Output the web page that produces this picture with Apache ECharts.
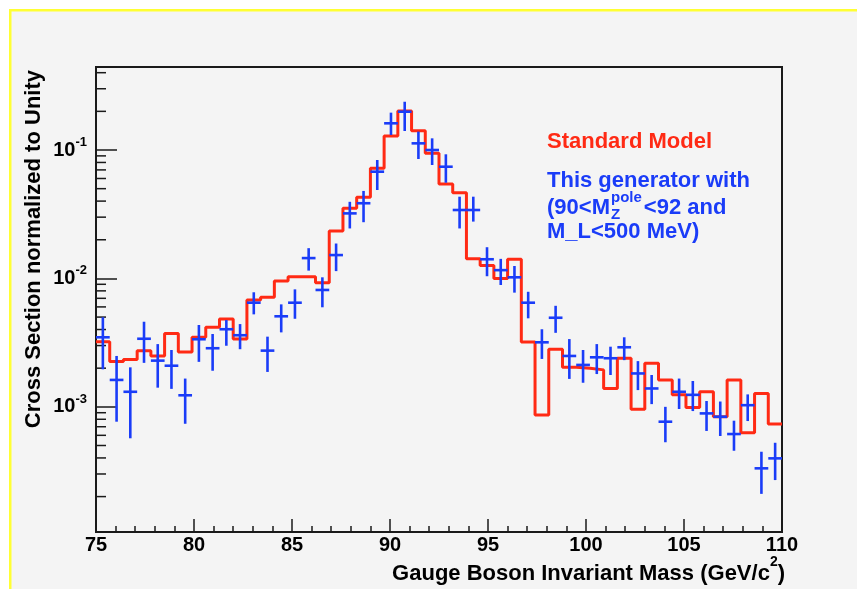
<!DOCTYPE html>
<html><head><meta charset="utf-8">
<script src="https://cdn.jsdelivr.net/npm/echarts@6/dist/echarts.min.js"></script>
<style>html,body{margin:0;padding:0;background:#fff}#c{width:857px;height:589px}</style>
</head><body><div id="c"></div>
<script>
// ---- data ----
const binEdges = [75.0,75.7,76.4,77.1,77.8,78.5,79.2,79.9,80.6,81.3,82.0,82.7,83.4,84.1,84.8,85.5,86.2,86.9,87.6,88.3,
  89.0,89.7,90.4,91.1,91.8,92.5,93.2,93.9,94.6,95.3,96.0,96.7,97.4,98.1,98.8,99.5,100.2,100.9,101.6,102.3,
  103.0,103.7,104.4,105.1,105.8,106.5,107.2,107.9,108.6,109.3,110.0];
const smValues = [3.21e-3,2.25e-3,2.34e-3,2.73e-3,2.49e-3,3.73e-3,2.67e-3,3.48e-3,4.16e-3,4.83e-3,
  3.37e-3,6.79e-3,7.13e-3,9.55e-3,1.03e-2,1.03e-2,9.26e-3,2.34e-2,3.52e-2,4.28e-2,
  7.2e-2,0.1285,0.201,0.141,9.42e-2,5.43e-2,4.65e-2,1.42e-2,1.26e-2,1.0e-2,
  1.41e-2,3.2e-3,8.63e-4,2.81e-3,2.03e-3,2.0e-3,1.94e-3,1.39e-3,2.39e-3,9.57e-4,
  2.18e-3,1.62e-3,1.24e-3,9.9e-4,1.31e-3,8.37e-4,1.62e-3,6.28e-4,1.27e-3,7.35e-4];
const genValues = [3.48e-3,1.62e-3,1.31e-3,3.39e-3,2.29e-3,2.09e-3,1.23e-3,3.36e-3,2.86e-3,4.02e-3,
  3.61e-3,6.47e-3,2.74e-3,5.07e-3,6.47e-3,1.44e-2,8.13e-3,1.52e-2,3.21e-2,3.85e-2,
  6.78e-2,0.1614,0.1987,0.1127,0.1,7.41e-2,3.41e-2,3.41e-2,1.41e-2,1.16e-2,
  1.02e-2,6.47e-3,3.18e-3,4.94e-3,2.49e-3,2.12e-3,2.43e-3,2.39e-3,2.91e-3,1.82e-3,
  1.39e-3,7.66e-4,1.31e-3,1.24e-3,8.89e-4,8.37e-4,6.14e-4,1.03e-3,3.32e-4,3.97e-4];
const genErrHigh = [4.98e-3,2.49e-3,2.03e-3,4.6e-3,3.08e-3,2.77e-3,1.66e-3,4.34e-3,3.69e-3,4.74e-3,
  4.41e-3,7.8e-3,3.52e-3,6.28e-3,8.22e-3,1.72e-2,1.02e-2,1.87e-2,3.95e-2,4.8e-2,
  8.36e-2,0.1954,0.2376,0.139,0.1233,9.26e-2,4.33e-2,4.33e-2,1.75e-2,1.42e-2,
  1.25e-2,7.87e-3,4.02e-3,6.12e-3,3.37e-3,2.77e-3,3.08e-3,2.94e-3,3.48e-3,2.27e-3,
  1.77e-3,1.0e-3,1.66e-3,1.59e-3,1.11e-3,1.1e-3,7.8e-4,1.25e-3,4.47e-4,5.25e-4];
const genErrLow = [1.96e-3,7.66e-4,5.69e-4,2.2e-3,1.41e-3,1.38e-3,7.38e-4,2.24e-3,1.91e-3,2.99e-3,
  2.81e-3,5.25e-3,1.87e-3,3.8e-3,4.85e-3,1.15e-2,5.96e-3,1.14e-2,2.45e-2,2.74e-2,
  4.88e-2,0.1309,0.1406,8.51e-2,7.64e-2,5.56e-2,2.45e-2,2.77e-2,1.04e-2,8.89e-3,
  7.75e-3,4.89e-3,2.36e-3,3.77e-3,1.65e-3,1.54e-3,1.8e-3,1.77e-3,2.31e-3,1.35e-3,
  1.05e-3,5.3e-4,9.62e-4,9.27e-4,6.49e-4,5.93e-4,4.55e-4,7.75e-4,2.1e-4,2.69e-4];
const xRange = [75, 110];
const yRange = [1.06e-4, 0.443];
const xTitle = 'Gauge Boson Invariant Mass (GeV/c';
const yTitle = 'Cross Section normalized to Unity';

// ---- style ----
const FONT = '"Liberation Sans", Arial, Helvetica, sans-serif';
const RED = '#ff2a14';
const BLUE = '#1a3cf8';
const INK = '#1a1a1a';

const smData = binEdges.map((e, i) => [e, smValues[Math.min(i, smValues.length - 1)]]);
const genData = genValues.map((v, i) => [(binEdges[i] + binEdges[i + 1]) / 2, v, genErrLow[i], genErrHigh[i], binEdges[i], binEdges[i + 1]]);
const minorY = [];
for (let k = -4; k <= -1; k++) for (let m = 2; m <= 9; m++) {
  const v = m * Math.pow(10, k);
  if (v > yRange[0] && v < yRange[1]) minorY.push([xRange[0], v]);
}

function measure(t, f) {
  const c = document.createElement('canvas').getContext('2d');
  c.font = f; return c.measureText(t).width;
}
const LX = 547;
const mainFont = 'bold 22px ' + FONT;
const w1 = measure('(90<M', mainFont);
const wPole = measure('pole', 'bold 15px ' + FONT);

const chart = echarts.init(document.getElementById('c'), null, {renderer: 'canvas'});
const option = {
  backgroundColor: '#f4f4f4',
  animation: false,
  grid: {left: 96, right: 75, top: 67, bottom: 57, show: true, borderColor: INK, borderWidth: 2, outerBoundsMode: 'none'},
  xAxis: {
    type: 'value', min: xRange[0], max: xRange[1], interval: 5,
    axisLine: {show: true, onZero: false, lineStyle: {color: INK, width: 2}},
    axisTick: {show: true, inside: true, length: 13, lineStyle: {color: INK, width: 1.5}},
    minorTick: {show: true, splitNumber: 5, length: 6, lineStyle: {color: INK, width: 1.5}},
    splitLine: {show: false},
    axisLabel: {color: '#000', fontFamily: FONT, fontWeight: 'bold', fontSize: 20, lineHeight: 20, margin: 3}
  },
  yAxis: {
    type: 'log', logBase: 10, min: yRange[0], max: yRange[1],
    axisLine: {show: true, onZero: false, lineStyle: {color: INK, width: 2}},
    axisTick: {show: true, inside: true, length: 21, lineStyle: {color: INK, width: 1.5}},
    splitLine: {show: false},
    axisLabel: {
      margin: 9,
      formatter: function (v) {
        const e = Math.log10(v);
        if (Math.abs(e - Math.round(e)) > 1e-6) return '';
        return '{b|10}{s|' + Math.round(e) + '}';
      },
      rich: {
        b: {color: '#000', fontFamily: FONT, fontWeight: 'bold', fontSize: 20, lineHeight: 28},
        s: {color: '#000', fontFamily: FONT, fontWeight: 'bold', fontSize: 13, lineHeight: 13, verticalAlign: 'top'}
      }
    }
  },
  series: [
    {
      type: 'custom', name: 'minor', silent: true, data: minorY, z: 1,
      renderItem: function (params, api) {
        const p = api.coord([api.value(0), api.value(1)]);
        return {type: 'line', shape: {x1: p[0], y1: p[1], x2: p[0] + 10, y2: p[1]}, style: {stroke: INK, lineWidth: 1.5}};
      }
    },
    {
      type: 'line', name: 'Standard Model', step: 'end', data: smData, symbol: 'none', z: 3,
      lineStyle: {color: RED, width: 3}, itemStyle: {color: RED}
    },
    {
      type: 'custom', name: 'This generator', data: genData, z: 4,
      encode: {x: 0, y: 1},
      renderItem: function (params, api) {
        const x = api.value(0), y = api.value(1), lo = api.value(2), hi = api.value(3), xl = api.value(4), xh = api.value(5);
        const a = api.coord([xl, y]), b = api.coord([xh, y]), t = api.coord([x, hi]), d = api.coord([x, lo]);
        return {type: 'group', children: [
          {type: 'line', shape: {x1: a[0], y1: a[1], x2: b[0], y2: b[1]}, style: {stroke: BLUE, lineWidth: 2.6}},
          {type: 'line', shape: {x1: t[0], y1: t[1], x2: d[0], y2: d[1]}, style: {stroke: BLUE, lineWidth: 2.6}}
        ]};
      }
    }
  ],
  graphic: [
    {type: 'rect', shape: {x: 0, y: 0, width: 857, height: 9}, style: {fill: '#fff'}, silent: true},
    {type: 'rect', shape: {x: 0, y: 0, width: 9, height: 589}, style: {fill: '#fff'}, silent: true},
    {type: 'rect', shape: {x: 9, y: 9, width: 848, height: 2.5}, style: {fill: '#ffff33'}, silent: true},
    {type: 'rect', shape: {x: 9, y: 9, width: 2.5, height: 580}, style: {fill: '#ffff33'}, silent: true},
    {type: 'text', x: 34, y: 70, rotation: Math.PI / 2, silent: true,
      style: {text: yTitle, fill: '#000', font: mainFont, align: 'right', verticalAlign: 'middle'}},
    {type: 'text', x: 785, y: 574, silent: true,
      style: {text: '{a|' + xTitle + '}{s|2}{a|)}', align: 'right', verticalAlign: 'middle',
        rich: {
          a: {fill: '#000', fontFamily: FONT, fontWeight: 'bold', fontSize: 22, lineHeight: 38},
          s: {fill: '#000', fontFamily: FONT, fontWeight: 'bold', fontSize: 14, lineHeight: 14, verticalAlign: 'top'}
        }}},
    {type: 'text', x: LX, y: 142.4, silent: true, style: {text: 'Standard Model', fill: RED, font: mainFont, align: 'left', verticalAlign: 'middle'}},
    {type: 'text', x: LX, y: 180.7, silent: true, style: {text: 'This generator with', fill: BLUE, font: mainFont, align: 'left', verticalAlign: 'middle'}},
    {type: 'text', x: LX, y: 208.1, silent: true, style: {text: '(90<M', fill: BLUE, font: mainFont, align: 'left', verticalAlign: 'middle'}},
    {type: 'text', x: LX + w1 + 1, y: 197.8, silent: true, style: {text: 'pole', fill: BLUE, font: 'bold 15px ' + FONT, align: 'left', verticalAlign: 'middle'}},
    {type: 'text', x: LX + w1 + 1, y: 214.8, silent: true, style: {text: 'Z', fill: BLUE, font: 'bold 15px ' + FONT, align: 'left', verticalAlign: 'middle'}},
    {type: 'text', x: LX + w1 + wPole + 3, y: 208.1, silent: true, style: {text: '<92 and', fill: BLUE, font: mainFont, align: 'left', verticalAlign: 'middle'}},
    {type: 'text', x: LX, y: 232.4, silent: true, style: {text: 'M_L<500 MeV)', fill: BLUE, font: mainFont, align: 'left', verticalAlign: 'middle'}}
  ]
};
chart.setOption(option);
</script>
</body></html>
